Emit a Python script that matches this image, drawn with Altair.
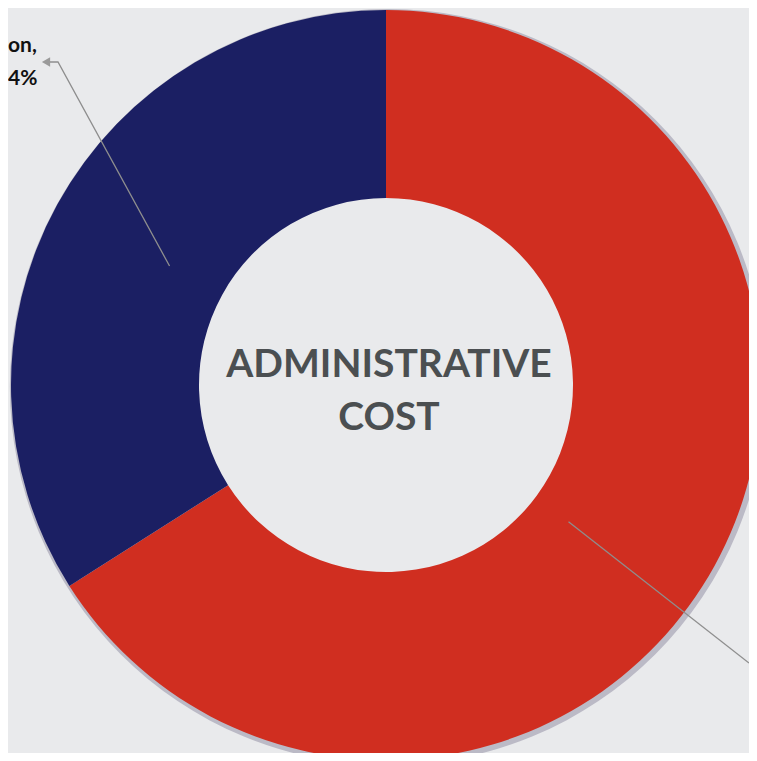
import altair as alt
import pandas as pd
import numpy as np

# ---- data ----
categories = ["Personnel", "Operation"]
values = [66, 34]
colors = ["#d02e20", "#1b1f63"]
center_lines = ["ADMINISTRATIVE", "COST"]
label_lines = ["on,", "4%"]

# ---- layout ----
W, H = 741, 745
CX, CY = 378, 377
R_OUT, R_IN = 375, 187

df = pd.DataFrame({"category": categories, "value": values, "order": range(len(values))})

shadow = alt.Chart(pd.DataFrame({"d": [0]})).mark_arc(
    theta=0, theta2=2 * np.pi, outerRadius=R_OUT + 3, innerRadius=R_OUT - 10,
    color="#8d89a0", opacity=0.5
).encode(x=alt.value(CX + 2), y=alt.value(CY + 2))

donut = alt.Chart(df).mark_arc(outerRadius=R_OUT, innerRadius=R_IN).encode(
    theta=alt.Theta("value:Q", stack=True),
    color=alt.Color("category:N", scale=alt.Scale(domain=categories, range=colors), legend=None),
    order=alt.Order("order:Q"),
    x=alt.value(CX), y=alt.value(CY),
)

# leader lines derived from slice mid-angles
tot = sum(values)
starts = np.cumsum([0] + values[:-1]) / tot * 2 * np.pi
mids = starts + np.array(values) / tot * np.pi

def pt(a, r):
    return CX + r * np.sin(a), CY - r * np.cos(a)

bx, by = pt(mids[1], 247)
rx, ry = pt(mids[0] + 0.14, 228)
slope = 148 / 189
lead = pd.DataFrame({
    "id": ["b", "b", "b", "r", "r"],
    "o": [0, 1, 2, 0, 1],
    "x": [bx, 50, 40, rx, W],
    "y": [by, 54, 54, ry, ry + (W - rx) * slope],
})
xs = alt.Scale(domain=[0, W], range=[0, W])
ys = alt.Scale(domain=[0, H], range=[0, H])
lines = alt.Chart(lead).mark_line(color="#8e8e8e", strokeWidth=1.3).encode(
    x=alt.X("x:Q", scale=xs, axis=None),
    y=alt.Y("y:Q", scale=ys, axis=None),
    detail="id:N", order="o:Q",
)
arrow = alt.Chart(pd.DataFrame({"x": [38], "y": [54]})).mark_point(
    shape="triangle-left", filled=True, color="#9a9a9a", size=90, opacity=1
).encode(x=alt.X("x:Q", scale=xs, axis=None), y=alt.Y("y:Q", scale=ys, axis=None))

ctext = alt.Chart(pd.DataFrame({"t": center_lines, "y": [369, 422]})).mark_text(
    fontSize=39, fontWeight="bold", font="Lato", color="#4b4f51", baseline="alphabetic", align="center"
).encode(text="t:N", x=alt.value(CX + 3), y=alt.Y("y:Q", scale=ys, axis=None))

ltext = alt.Chart(pd.DataFrame({"t": label_lines, "y": [44, 77]})).mark_text(
    fontSize=21, fontWeight="bold", font="Lato", color="#111111", baseline="alphabetic", align="left"
).encode(text="t:N", x=alt.value(0), y=alt.Y("y:Q", scale=ys, axis=None))

chart = alt.layer(shadow, donut, lines, arrow, ctext, ltext).properties(
    width=W, height=H, autosize=alt.AutoSizeParams(type="none"), padding=0,
    background="#e9eaec",
).configure_view(stroke=None)

chart.save("out.html", embed_options={"renderer": "svg", "actions": False})
